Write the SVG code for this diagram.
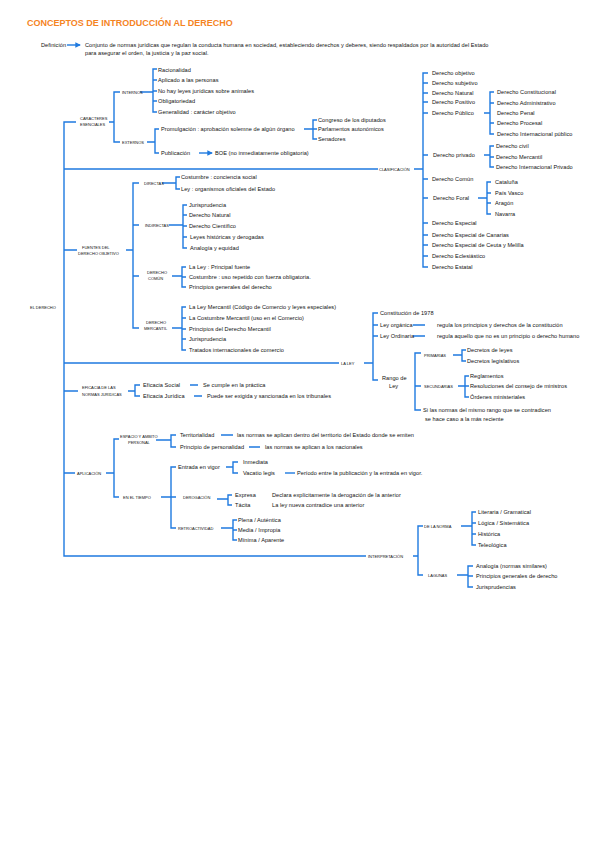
<svg xmlns="http://www.w3.org/2000/svg" width="599" height="848" viewBox="0 0 599 848">
<style>
text{font-family:"Liberation Sans",Arial,sans-serif;fill:#111111}
.t{font-size:5.6px;letter-spacing:0.05px}
.c{font-size:4px}
.title{font-size:9px;font-weight:bold;fill:#f5841f}
.ln{fill:none;stroke:#1f7ae0;stroke-width:1.4}
</style>
<defs>
<marker id="ah" viewBox="0 0 6 6" refX="5" refY="3" markerWidth="4" markerHeight="4" orient="auto"><path d="M0,0 L6,3 L0,6 z" fill="#1f7ae0"/></marker>
</defs>
<rect width="599" height="848" fill="#ffffff"/>
<text class="title" x="27" y="26">CONCEPTOS DE INTRODUCCIÓN AL DERECHO</text>

<g id="connectors">
<path class="ln" marker-end="url(#ah)" d="M67,45 H80"/>
<path class="ln" d="M76,122 H64 V556 H366 M64,169 H378 M64,250 H77 M64,363 H339 M64,391 H78 M64,473 H75"/>
<path class="ln" d="M109,122 H114 M120,92 H114 V142 H120"/>
<path class="ln" d="M140,92 H153 M157,69 H153 V112 H157 M153,80 H157 M153,91 H157 M153,101 H157"/>
<path class="ln" d="M147,142 H155 M159,129 H155 V153 H159"/>
<path class="ln" d="M304,129 H313 M317,120 H313 V139 H317 M313,129 H317"/>
<path class="ln" marker-end="url(#ah)" d="M199,153 H212"/>
<path class="ln" d="M414,169 H423 M428,73 H423 V267 H428 M423,83 H428 M423,93 H428 M423,102 H428 M423,113 H428 M423,155 H428 M423,179 H428 M423,198 H428 M423,223 H428 M423,235 H428 M423,245 H428 M423,256 H428"/>
<path class="ln" d="M484,113 H490 M494,92 H490 V134 H494 M490,103 H494 M490,123 H494"/>
<path class="ln" d="M484,155 H490 M494,146 H490 V167 H494 M490,157 H494"/>
<path class="ln" d="M478,198 H487 M491,182 H487 V214 H491 M487,193 H491 M487,203 H491"/>
<path class="ln" d="M126,250 H133 M139,183 H133 V328 H139 M133,225 H139 M133,276 H139"/>
<path class="ln" d="M162,183 H176 M180,177 H176 V189 H180"/>
<path class="ln" d="M169,225 H183 M187,205 H183 V248 H187 M183,215 H187 M183,226 H187 M183,237 H187"/>
<path class="ln" d="M172,276 H182 M186,267 H182 V287 H186 M182,277 H186"/>
<path class="ln" d="M172,328 H182 M186,307 H182 V350 H186 M182,318 H186 M182,329 H186 M182,339 H186"/>
<path class="ln" d="M364,363 H373 M378,313 H373 V380 H378 M373,325 H378 M373,336 H378"/>
<path class="ln" d="M413,325 H425 M413,336 H425"/>
<path class="ln" d="M421,353 H415 V410 H421 M415,386 H421"/>
<path class="ln" d="M453,355 H462 M466,350 H462 V361 H466"/>
<path class="ln" d="M458,386 H465 M469,376 H465 V397 H469 M465,386 H469"/>
<path class="ln" d="M128,391 H135 M140,385 H135 V396 H140"/>
<path class="ln" d="M190,385 H198 M194,396 H202"/>
<path class="ln" d="M106,473 H114 M119,439 H114 V497 H119"/>
<path class="ln" d="M156,440 H171 M176,435 H171 V447 H176"/>
<path class="ln" d="M221,435 H233 M249,447 H260"/>
<path class="ln" d="M161,497 H171 M176,467 H171 V528 H176 M171,497 H176"/>
<path class="ln" d="M226,467 H233 M238,462 H233 V473 H238"/>
<path class="ln" d="M285,473 H295"/>
<path class="ln" d="M217,499 H228 M232,495 H228 V505 H232"/>
<path class="ln" d="M221,528 H233 M237,520 H233 V540 H237 M233,530 H237"/>
<path class="ln" d="M413,556 H418 M423,526 H418 V575 H423"/>
<path class="ln" d="M461,526 H472 M476,512 H472 V545 H476 M472,523 H476 M472,534 H476"/>
<path class="ln" d="M457,575 H468 M473,566 H468 V587 H473 M468,576 H473"/>
</g>

<g id="definicion">
<text class="t" x="41" y="47">Definición</text>
<text class="t" x="85" y="47">Conjunto de normas jurídicas que regulan la conducta humana en sociedad, estableciendo derechos y deberes, siendo respaldados por la autoridad del Estado</text>
<text class="t" x="85" y="55">para asegurar el orden, la justicia y la paz social.</text>
</g>

<g id="el-derecho"><text class="c" x="30" y="309">EL DERECHO</text></g>

<g id="caracteres">
<text class="c" x="80" y="120">CARACTERES</text>
<text class="c" x="80" y="126">ESENCIALES</text>
<text class="c" x="122" y="94">INTERNOS</text>
<text class="c" x="122" y="144">EXTERNOS</text>
<text class="t" x="158" y="72">Racionalidad</text>
<text class="t" x="158" y="82">Aplicado a las personas</text>
<text class="t" x="158" y="93">No hay leyes jurídicas sobre animales</text>
<text class="t" x="158" y="103">Obligatoriedad</text>
<text class="t" x="158" y="114">Generalidad : carácter objetivo</text>
<text class="t" x="161" y="131">Promulgación : aprobación solemne de algún órgano</text>
<text class="t" x="318" y="122">Congreso de los diputados</text>
<text class="t" x="318" y="131">Parlamentos autonómicos</text>
<text class="t" x="318" y="141">Senadores</text>
<text class="t" x="161" y="155">Publicación</text>
<text class="t" x="215" y="155">BOE  (no inmediatamente obligatoria)</text>
</g>

<g id="clasificacion">
<text class="c" x="379" y="171">CLASIFICACIÓN</text>
<text class="t" x="432" y="75">Derecho objetivo</text>
<text class="t" x="432" y="85">Derecho subjetivo</text>
<text class="t" x="432" y="95">Derecho Natural</text>
<text class="t" x="432" y="104">Derecho Positivo</text>
<text class="t" x="432" y="115">Derecho Público</text>
<text class="t" x="497" y="94">Derecho Constitucional</text>
<text class="t" x="497" y="105">Derecho Administrativo</text>
<text class="t" x="497" y="115">Derecho Penal</text>
<text class="t" x="497" y="125">Derecho Procesal</text>
<text class="t" x="497" y="136">Derecho Internacional público</text>
<text class="t" x="433" y="157">Derecho privado</text>
<text class="t" x="496" y="148">Derecho civil</text>
<text class="t" x="496" y="159">Derecho Mercantil</text>
<text class="t" x="496" y="169">Derecho Internacional Privado</text>
<text class="t" x="432" y="181">Derecho Común</text>
<text class="t" x="433" y="200">Derecho Foral</text>
<text class="t" x="495" y="184">Cataluña</text>
<text class="t" x="495" y="195">País Vasco</text>
<text class="t" x="495" y="205">Aragón</text>
<text class="t" x="495" y="216">Navarra</text>
<text class="t" x="432" y="225">Derecho Especial</text>
<text class="t" x="432" y="237">Derecho Especial de Canarias</text>
<text class="t" x="432" y="247">Derecho Especial de Ceuta y Melilla</text>
<text class="t" x="432" y="258">Derecho Eclesiástico</text>
<text class="t" x="432" y="269">Derecho Estatal</text>
</g>

<g id="fuentes">
<text class="c" x="82" y="249">FUENTES DEL</text>
<text class="c" x="78" y="255">DERECHO OBJETIVO</text>
<text class="c" x="144" y="185">DIRECTAS</text>
<text class="t" x="181" y="179">Costumbre : conciencia social</text>
<text class="t" x="181" y="191">Ley : organismos oficiales del Estado</text>
<text class="c" x="145" y="227">INDIRECTAS</text>
<text class="t" x="189" y="207">Jurisprudencia</text>
<text class="t" x="189" y="217">Derecho Natural</text>
<text class="t" x="189" y="228">Derecho Científico</text>
<text class="t" x="190" y="239">Leyes históricas y derogadas</text>
<text class="t" x="190" y="250">Analogía y equidad</text>
<text class="c" x="147" y="274">DERECHO</text>
<text class="c" x="148" y="280">COMÚN</text>
<text class="t" x="189" y="269">La Ley : Principal fuente</text>
<text class="t" x="189" y="279">Costumbre : uso repetido con fuerza obligatoria.</text>
<text class="t" x="189" y="289">Principios generales del derecho</text>
<text class="c" x="146" y="324">DERECHO</text>
<text class="c" x="144" y="330">MERCANTIL</text>
<text class="t" x="189" y="309">La Ley Mercantil (Código de Comercio y leyes especiales)</text>
<text class="t" x="189" y="320">La Costumbre Mercantil (uso en el Comercio)</text>
<text class="t" x="189" y="331">Principios del Derecho Mercantil</text>
<text class="t" x="189" y="341">Jurisprudencia</text>
<text class="t" x="189" y="352">Tratados internacionales de comercio</text>
</g>

<g id="la-ley">
<text class="c" x="341" y="365">LA LEY</text>
<text class="t" x="380" y="315">Constitución de 1978</text>
<text class="t" x="380" y="327">Ley orgánica</text>
<text class="t" x="437" y="327">regula los principios y derechos de la constitución</text>
<text class="t" x="380" y="338">Ley Ordinaria</text>
<text class="t" x="437" y="338">regula aquello que no es un principio o derecho humano</text>
<text class="t" x="382" y="380">Rango de</text>
<text class="t" x="389" y="388">Ley</text>
<text class="c" x="424" y="357">PRIMARIAS</text>
<text class="t" x="467" y="352">Decretos de leyes</text>
<text class="t" x="467" y="363">Decretos legislativos</text>
<text class="c" x="424" y="388">SECUNDARIAS</text>
<text class="t" x="470" y="378">Reglamentos</text>
<text class="t" x="470" y="388">Resoluciones del consejo de ministros</text>
<text class="t" x="470" y="399">Órdenes ministeriales</text>
<text class="t" x="423" y="412">Si las normas del mismo rango que se contradicen</text>
<text class="t" x="425" y="421">se hace caso a la más reciente</text>
</g>

<g id="eficacia">
<text class="c" x="82" y="389">EFICACIA DE LAS</text>
<text class="c" x="82" y="396">NORMAS JURÍDICAS</text>
<text class="t" x="143" y="387">Eficacia Social</text>
<text class="t" x="203" y="387">Se cumple en la práctica</text>
<text class="t" x="143" y="398">Eficacia Jurídica</text>
<text class="t" x="207" y="398">Puede ser exigida y sancionada en los tribunales</text>
</g>

<g id="aplicacion">
<text class="c" x="77" y="475">APLICACIÓN</text>
<text class="c" x="120" y="438">ESPACIO Y ÁMBITO</text>
<text class="c" x="128" y="444">PERSONAL</text>
<text class="t" x="180" y="437">Territorialidad</text>
<text class="t" x="237" y="437">las normas se aplican dentro del territorio del Estado donde se emiten</text>
<text class="t" x="180" y="449">Principio de personalidad</text>
<text class="t" x="265" y="449">las normas se aplican a los nacionales</text>
<text class="c" x="123" y="499">EN EL TIEMPO</text>
<text class="t" x="178" y="469">Entrada en vigor</text>
<text class="t" x="243" y="464">Inmediata</text>
<text class="t" x="243" y="475">Vacatio legis</text>
<text class="t" x="297" y="475">Período entre la publicación y la entrada en vigor.</text>
<text class="c" x="183" y="499">DEROGACIÓN</text>
<text class="t" x="235" y="497">Expresa</text>
<text class="t" x="235" y="507">Tácita</text>
<text class="t" x="272" y="497">Declara explícitamente la derogación de la anterior</text>
<text class="t" x="272" y="507">La ley nueva contradice una anterior</text>
<text class="c" x="178" y="530">RETROACTIVIDAD</text>
<text class="t" x="238" y="522">Plena / Auténtica</text>
<text class="t" x="238" y="532">Media / Impropia</text>
<text class="t" x="238" y="542">Mínima / Aparente</text>
</g>

<g id="interpretacion">
<text class="c" x="368" y="558">INTERPRETACIÓN</text>
<text class="c" x="424" y="528">DE LA NORMA</text>
<text class="t" x="478" y="514">Literaria / Gramatical</text>
<text class="t" x="478" y="525">Lógica / Sistemática</text>
<text class="t" x="478" y="536">Histórica</text>
<text class="t" x="478" y="547">Teleológica</text>
<text class="c" x="428" y="577">LAGUNAS</text>
<text class="t" x="476" y="568">Analogía  (normas similares)</text>
<text class="t" x="476" y="578">Principios generales de derecho</text>
<text class="t" x="476" y="589">Jurisprudencias</text>
</g>
</svg>
